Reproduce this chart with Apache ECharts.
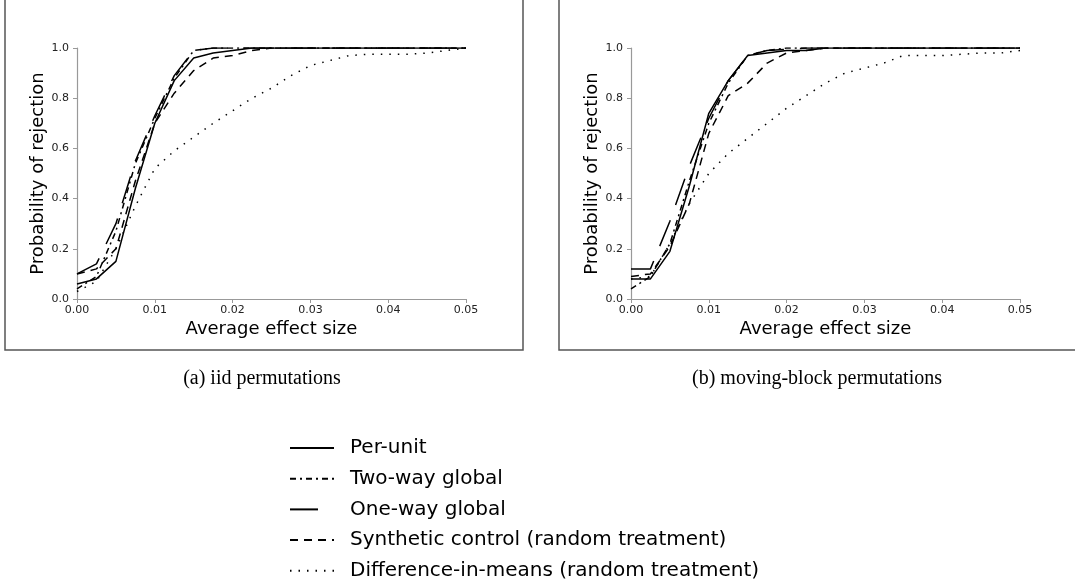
<!DOCTYPE html>
<html>
<head>
<meta charset="utf-8">
<script src="https://cdn.jsdelivr.net/npm/echarts@6/dist/echarts.min.js"></script>
<style>
  html, body { margin: 0; padding: 0; background: #fff; }
  #main { width: 1075px; height: 588px; }
</style>
</head>
<body>
<div id="main"></div>
<script>
// average effect size (x grid)
var effectSize = [0, 0.0025, 0.005, 0.0075, 0.01, 0.0125, 0.015, 0.0175, 0.02, 0.0225, 0.025,
  0.0275, 0.03, 0.0325, 0.035, 0.0375, 0.04, 0.0425, 0.045, 0.0475, 0.05];

var methodNames = ['Per-unit', 'Two-way global', 'One-way global',
  'Synthetic control (random treatment)', 'Difference-in-means (random treatment)'];

// (a) iid permutations
var iidPerUnit = [0.06, 0.08, 0.15, 0.44, 0.70, 0.87, 0.96, 0.98, 0.99, 1, 1, 1, 1, 1, 1, 1, 1, 1, 1, 1, 1];
var iidTwoWay = [0.04, 0.09, 0.27, 0.54, 0.72, 0.88, 0.99, 1, 1, 1, 1, 1, 1, 1, 1, 1, 1, 1, 1, 1, 1];
var iidOneWay = [0.10, 0.14, 0.30, 0.55, 0.73, 0.89, 0.99, 1, 1, 1, 1, 1, 1, 1, 1, 1, 1, 1, 1, 1, 1];
var iidSynth = [0.10, 0.12, 0.20, 0.47, 0.70, 0.82, 0.91, 0.96, 0.97, 0.99, 1, 1, 1, 1, 1, 1, 1, 1, 1, 1, 1];
var iidDiff = [0.03, 0.07, 0.20, 0.37, 0.52, 0.59, 0.645, 0.70, 0.75, 0.80, 0.84, 0.89, 0.93, 0.95,
  0.97, 0.975, 0.975, 0.975, 0.98, 0.99, 1];

// (b) moving-block permutations
var blockPerUnit = [0.08, 0.08, 0.19, 0.45, 0.74, 0.87, 0.97, 0.98, 0.99, 0.99, 1, 1, 1, 1, 1, 1, 1, 1, 1, 1, 1];
var blockTwoWay = [0.04, 0.09, 0.22, 0.47, 0.70, 0.86, 0.97, 0.99, 1, 1, 1, 1, 1, 1, 1, 1, 1, 1, 1, 1, 1];
var blockOneWay = [0.12, 0.12, 0.31, 0.53, 0.72, 0.87, 0.97, 0.99, 0.995, 1, 1, 1, 1, 1, 1, 1, 1, 1, 1, 1, 1];
var blockSynth = [0.09, 0.10, 0.21, 0.38, 0.66, 0.81, 0.86, 0.94, 0.98, 0.99, 1, 1, 1, 1, 1, 1, 1, 1, 1, 1, 1];
var blockDiff = [0.08, 0.09, 0.22, 0.38, 0.50, 0.58, 0.64, 0.70, 0.76, 0.81, 0.86, 0.90, 0.92, 0.94,
  0.97, 0.97, 0.97, 0.975, 0.98, 0.98, 0.99];

var panelSeries = [
  [iidPerUnit, iidTwoWay, iidOneWay, iidSynth, iidDiff],
  [blockPerUnit, blockTwoWay, blockOneWay, blockSynth, blockDiff]
];

// dash patterns per method
var dashes = ['solid', [6, 4, 2, 4], [28, 16], [8, 6], [1.5, 7]];

function pairs(ys) {
  return ys.map(function (y, i) { return [effectSize[i], y]; });
}

var series = [];
panelSeries.forEach(function (list, p) {
  list.forEach(function (ys, k) {
    series.push({
      name: methodNames[k],
      type: 'line',
      xAxisIndex: p,
      yAxisIndex: p,
      data: pairs(ys),
      symbol: 'none',
      animation: false,
      lineStyle: { color: '#000', width: 1.5, type: dashes[k], cap: 'butt' }
    });
  });
});

function xAx(i) {
  return {
    gridIndex: i, type: 'value', min: 0, max: 0.05, interval: 0.01,
    name: 'Average effect size', nameLocation: 'middle', nameGap: 21,
    nameTextStyle: { fontSize: 18, color: '#000' },
    axisLine: { lineStyle: { color: '#999', width: 1.2 } },
    axisTick: { length: 4, lineStyle: { color: '#999' } },
    axisLabel: { fontSize: 11, color: '#222', margin: 6,
      formatter: function (v) { return v.toFixed(2); } },
    splitLine: { show: false }
  };
}
function yAx(i) {
  return {
    gridIndex: i, type: 'value', min: 0, max: 1, interval: 0.2,
    name: 'Probability of rejection', nameLocation: 'middle', nameGap: 30,
    nameTextStyle: { fontSize: 18, color: '#000' },
    axisLine: { show: true, lineStyle: { color: '#999', width: 1.2 } },
    axisTick: { show: true, length: 4, lineStyle: { color: '#999' } },
    axisLabel: { fontSize: 11, color: '#222', margin: 8,
      formatter: function (v) { return v.toFixed(1); } },
    splitLine: { show: false }
  };
}

var chart = echarts.init(document.getElementById('main'));
chart.setOption({
  animation: false,
  textStyle: { fontFamily: 'DejaVu Sans' },
  grid: [
    { left: 77, top: 48, width: 389, height: 251 },
    { left: 631, top: 48, width: 389, height: 251 }
  ],
  xAxis: [xAx(0), xAx(1)],
  yAxis: [yAx(0), yAx(1)],
  legend: {
    data: methodNames,
    orient: 'vertical',
    left: 289, top: 438,
    padding: 0,
    itemWidth: 44, itemHeight: 20, itemGap: 10.7,
    itemStyle: { opacity: 0, borderWidth: 0 },
    textStyle: { fontSize: 20, color: '#000', lineHeight: 20, padding: [0, 0, 0, 11] }
  },
  graphic: [
    { type: 'rect', shape: { x: 5, y: -5, width: 518, height: 355 },
      style: { fill: 'none', stroke: '#555', lineWidth: 1.5 } },
    { type: 'rect', shape: { x: 559, y: -5, width: 600, height: 355 },
      style: { fill: 'none', stroke: '#555', lineWidth: 1.5 } },
    { type: 'text', x: 262, y: 379,
      style: { text: '(a) iid permutations', font: '20px "Liberation Serif"', fill: '#000',
        align: 'center', verticalAlign: 'middle' } },
    { type: 'text', x: 817, y: 379,
      style: { text: '(b) moving-block permutations', font: '20px "Liberation Serif"', fill: '#000',
        align: 'center', verticalAlign: 'middle' } }
  ],
  series: series
});
</script>
</body>
</html>
